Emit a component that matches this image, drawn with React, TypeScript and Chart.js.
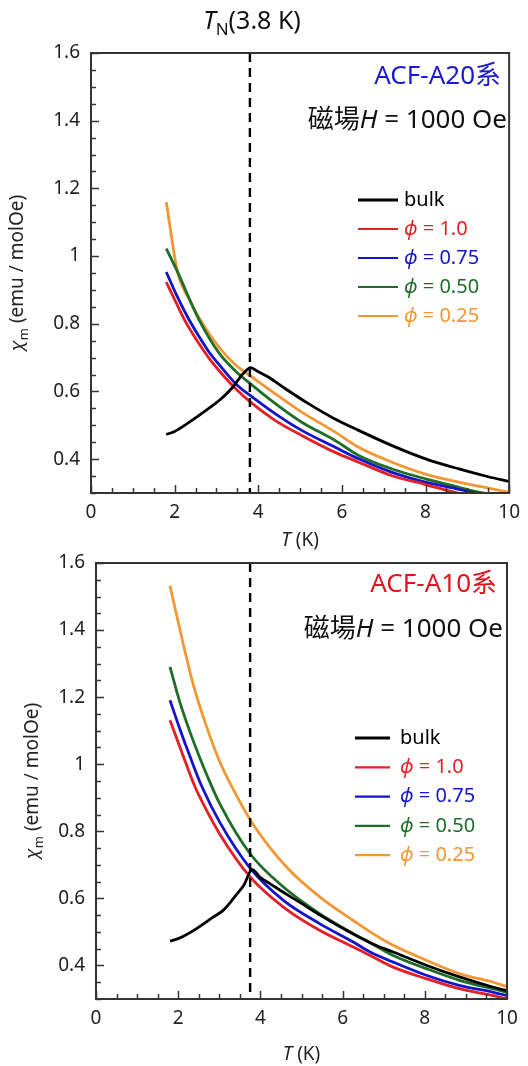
import React, { useEffect, useRef } from "react";
import { Chart, registerables } from "chart.js";

Chart.register(...registerables);

// ---------- axes ----------
const X_MIN = 0;
const X_MAX = 10;
const Y_MIN = 0.3;
const Y_MAX = 1.6;
const X_LABELS = [0, 2, 4, 6, 8, 10];
const Y_LABELS = [0.4, 0.6, 0.8, 1, 1.2, 1.4, 1.6];

// ---------- series meta ----------
const SERIES_NAMES = ["bulk", "1.0", "0.75", "0.50", "0.25"];
const SERIES_COLORS = ["#000000", "#e61e25", "#1414c8", "#1e6e28", "#f29733"];

// ---------- ACF-A20 ----------
const A20_TN = 3.8;
const A20_BULK_T = [1.8, 2.0, 2.3, 2.75, 3.1, 3.4, 3.62, 3.82, 4.0, 4.25, 4.65, 5.2, 5.8, 6.4, 7.2, 8.0, 8.8, 9.5, 10];
const A20_BULK_CHI = [0.473, 0.482, 0.505, 0.544, 0.577, 0.614, 0.65, 0.67, 0.658, 0.642, 0.608, 0.564, 0.521, 0.485, 0.44, 0.401, 0.371, 0.348, 0.334];
const A20_P100_T = [1.8, 2.03, 2.23, 2.51, 2.83, 3.06, 3.46, 3.86, 4.41, 5.04, 5.84, 6.4, 7.2, 8.0, 8.7, 9.4, 10];
const A20_P100_CHI = [0.923, 0.864, 0.813, 0.755, 0.697, 0.662, 0.608, 0.564, 0.514, 0.47, 0.42, 0.391, 0.351, 0.325, 0.302, 0.283, 0.27];
const A20_P075_T = [1.8, 2.03, 2.31, 2.59, 2.83, 3.06, 3.46, 3.86, 4.41, 5.04, 5.84, 6.4, 7.2, 8.0, 8.8, 9.4, 10];
const A20_P075_CHI = [0.953, 0.889, 0.82, 0.761, 0.715, 0.68, 0.623, 0.583, 0.534, 0.485, 0.435, 0.401, 0.361, 0.332, 0.311, 0.295, 0.282];
const A20_P050_T = [1.8, 2.1, 2.35, 2.6, 3.06, 3.46, 3.86, 4.41, 5.04, 5.84, 6.4, 7.2, 8.0, 8.8, 9.3, 10];
const A20_P050_CHI = [1.022, 0.945, 0.874, 0.808, 0.714, 0.66, 0.618, 0.564, 0.509, 0.455, 0.411, 0.371, 0.342, 0.317, 0.302, 0.288];
const A20_P025_T = [1.8, 2.07, 2.35, 2.67, 3.06, 3.46, 3.86, 4.41, 5.04, 5.84, 6.4, 7.2, 8.0, 8.8, 9.6, 10];
const A20_P025_CHI = [1.16, 0.953, 0.872, 0.8, 0.731, 0.678, 0.642, 0.593, 0.539, 0.48, 0.435, 0.391, 0.356, 0.332, 0.312, 0.302];

// ---------- ACF-A10 ----------
const A10_TN = 3.75;
const A10_BULK_T = [1.8, 2.0, 2.37, 2.85, 3.1, 3.42, 3.6, 3.8, 4.0, 4.23, 4.64, 5.04, 5.45, 6.1, 6.67, 7.23, 8.05, 8.86, 9.67, 10];
const A10_BULK_CHI = [0.473, 0.48, 0.504, 0.544, 0.565, 0.612, 0.64, 0.686, 0.662, 0.644, 0.612, 0.582, 0.55, 0.504, 0.468, 0.44, 0.4, 0.365, 0.335, 0.325];
const A10_P100_T = [1.8, 2.09, 2.4, 2.6, 3.02, 3.75, 4.56, 5.45, 6.26, 6.67, 7.23, 8.05, 8.86, 9.67, 10];
const A10_P100_CHI = [1.131, 1.035, 0.935, 0.884, 0.79, 0.664, 0.574, 0.504, 0.455, 0.43, 0.395, 0.36, 0.33, 0.31, 0.3];
const A10_P075_T = [1.8, 2.04, 2.29, 2.57, 3.02, 3.75, 4.56, 5.45, 6.26, 6.67, 7.23, 8.05, 8.86, 9.67, 10];
const A10_P075_CHI = [1.191, 1.105, 1.022, 0.935, 0.825, 0.69, 0.594, 0.524, 0.47, 0.44, 0.41, 0.37, 0.34, 0.32, 0.31];
const A10_P050_T = [1.8, 2.04, 2.29, 2.53, 2.69, 3.02, 3.75, 4.56, 5.45, 6.26, 6.67, 7.23, 8.05, 8.86, 9.67, 10];
const A10_P050_CHI = [1.29, 1.185, 1.095, 1.018, 0.97, 0.88, 0.733, 0.634, 0.554, 0.495, 0.468, 0.43, 0.39, 0.355, 0.33, 0.32];
const A10_P025_T = [1.8, 2.12, 2.37, 2.69, 3.02, 3.34, 3.8, 4.64, 5.45, 6.26, 6.67, 7.23, 8.05, 8.86, 9.67, 10];
const A10_P025_CHI = [1.532, 1.36, 1.236, 1.112, 1.005, 0.925, 0.825, 0.693, 0.604, 0.534, 0.5, 0.46, 0.415, 0.375, 0.35, 0.337];

const FONT = "'Noto Sans', 'Noto Sans CJK TC', sans-serif";

type Run = { t: string; italic?: boolean; sub?: boolean; color?: string };

function drawRuns(ctx: CanvasRenderingContext2D, runs: Run[], x: number, y: number, size: number, align: "left" | "center" | "right", color: string) {
  const fontOf = (r: Run) => `${r.italic ? "italic " : ""}${r.sub ? Math.round(size * 0.68) : size}px ${FONT}`;
  let w = 0;
  runs.forEach((r) => {
    ctx.font = fontOf(r);
    w += ctx.measureText(r.t).width;
  });
  let cx = align === "left" ? x : align === "center" ? x - w / 2 : x - w;
  ctx.textBaseline = "middle";
  ctx.textAlign = "left";
  runs.forEach((r) => {
    ctx.font = fontOf(r);
    ctx.fillStyle = r.color || color;
    ctx.fillText(r.t, cx, y + (r.sub ? size * 0.32 : 0));
    cx += ctx.measureText(r.t).width;
  });
}

const isMult = (v: number, step: number) => Math.abs(v / step - Math.round(v / step)) < 1e-6;

const decorPlugin = {
  id: "decor",
  afterDatasetsDraw(chart: any, _args: any, opts: any) {
    const { ctx, chartArea, scales } = chart;
    const { left, right, top, bottom } = chartArea;
    const x = scales.x;
    const y = scales.y;
    ctx.save();
    // inward ticks
    ctx.strokeStyle = "#333";
    ctx.lineWidth = 1.5;
    x.ticks.forEach((t: any) => {
      const px = Math.round(x.getPixelForValue(t.value)) + 0.5;
      const len = isMult(t.value, 2) ? 8 : 5;
      ctx.beginPath();
      ctx.moveTo(px, bottom);
      ctx.lineTo(px, bottom - len);
      ctx.stroke();
    });
    y.ticks.forEach((t: any) => {
      const py = Math.round(y.getPixelForValue(t.value)) + 0.5;
      const len = isMult(t.value, 0.2) ? 8 : 5;
      ctx.beginPath();
      ctx.moveTo(left, py);
      ctx.lineTo(left + len, py);
      ctx.stroke();
    });
    // frame
    ctx.lineWidth = 2;
    ctx.strokeRect(left, top, right - left, bottom - top);

    // legend
    const lg = opts.legend;
    SERIES_NAMES.forEach((name, i) => {
      const ly = lg.y0 + i * lg.dy;
      ctx.strokeStyle = SERIES_COLORS[i];
      ctx.lineWidth = i === 0 ? 3 : 2.2;
      ctx.beginPath();
      ctx.moveTo(lg.x0, ly);
      ctx.lineTo(lg.x1, ly);
      ctx.stroke();
      const runs: Run[] = i === 0 ? [{ t: name }] : [{ t: "ϕ", italic: true }, { t: " = " + name }];
      drawRuns(ctx, runs, lg.tx, ly, 20, "left", SERIES_COLORS[i]);
    });

    // annotations
    drawRuns(ctx, [{ t: opts.sample }], opts.sampleX, opts.sampleY, 26, "right", opts.sampleColor);
    drawRuns(ctx, [{ t: "磁場" }, { t: "H", italic: true }, { t: " = 1000 Oe" }], opts.fieldX, opts.fieldY, 26, "right", "#111");

    if (opts.title) {
      drawRuns(ctx, [{ t: "T", italic: true }, { t: "N", sub: true }, { t: "(3.8 K)" }], opts.titleX, opts.titleY, 25, "center", "#111");
    }

    // axis titles
    drawRuns(ctx, [{ t: "T", italic: true }, { t: " (K)" }], (left + right) / 2, opts.xTitleY, 19, "center", "#222");
    ctx.save();
    ctx.translate(opts.yTitleX, (top + bottom) / 2);
    ctx.rotate(-Math.PI / 2);
    drawRuns(ctx, [{ t: "χ", italic: true }, { t: "m", sub: true }, { t: " (emu / molOe)" }], 0, 0, 19, "center", "#222");
    ctx.restore();

    ctx.restore();
  },
};

type PanelCfg = {
  series: { t: number[]; chi: number[] }[];
  tn: number;
  height: number;
  padTop: number;
  padRight: number;
  yAxisW: number;
  xAxisH: number;
  decor: any;
};

function makeDatasets(cfg: PanelCfg) {
  const ds: any[] = cfg.series.map((s, i) => ({
    label: SERIES_NAMES[i],
    data: s.t.map((t, k) => ({ x: t, y: s.chi[k] })),
    borderColor: SERIES_COLORS[i],
    borderWidth: 2.8,
    pointRadius: 0,
    showLine: true,
    fill: false,
    cubicInterpolationMode: "monotone",
  }));
  ds.push({
    label: "TN",
    data: [
      { x: cfg.tn, y: Y_MAX },
      { x: cfg.tn, y: Y_MIN },
    ],
    borderColor: "#000",
    borderWidth: 2.4,
    borderDash: [9, 6],
    pointRadius: 0,
    showLine: true,
    fill: false,
    order: -1,
  });
  return ds;
}

function Panel({ cfg, top }: { cfg: PanelCfg; top: number }) {
  const ref = useRef<HTMLCanvasElement>(null);
  useEffect(() => {
    if (!ref.current) return;
    const chart = new Chart(ref.current, {
      type: "scatter",
      data: { datasets: makeDatasets(cfg) },
      plugins: [decorPlugin],
      options: {
        animation: false,
        responsive: false,
        events: [],
        layout: { padding: { top: cfg.padTop, right: cfg.padRight, left: 0, bottom: 0 } },
        plugins: {
          legend: { display: false },
          tooltip: { enabled: false },
          decor: cfg.decor,
        } as any,
        scales: {
          x: {
            type: "linear",
            min: X_MIN,
            max: X_MAX,
            grid: { display: false, drawTicks: false },
            border: { display: false },
            ticks: {
              stepSize: 0.5,
              autoSkip: false,
              maxRotation: 0,
              padding: 8,
              color: "#222",
              font: { size: 19, family: FONT },
              callback: (v: any) => (X_LABELS.some((l) => Math.abs(l - v) < 1e-6) ? String(Math.round(v)) : ""),
            },
            afterFit: (s: any) => {
              s.height = cfg.xAxisH;
            },
          },
          y: {
            type: "linear",
            min: Y_MIN,
            max: Y_MAX,
            grid: { display: false, drawTicks: false },
            border: { display: false },
            ticks: {
              stepSize: 0.05,
              autoSkip: false,
              padding: 11,
              color: "#222",
              font: { size: 19, family: FONT },
              callback: (v: any) => (Y_LABELS.some((l) => Math.abs(l - v) < 1e-6) ? String(Math.round(v * 10) / 10) : ""),
            },
            afterFit: (s: any) => {
              s.width = cfg.yAxisW;
            },
          },
        },
      } as any,
    });
    return () => chart.destroy();
  }, []);
  return (
    <div style={{ position: "absolute", left: 0, top, width: 528, height: cfg.height }}>
      <canvas ref={ref} width={528} height={cfg.height} style={{ display: "block" }} />
    </div>
  );
}

const TOP_CFG: PanelCfg = {
  series: [
    { t: A20_BULK_T, chi: A20_BULK_CHI },
    { t: A20_P100_T, chi: A20_P100_CHI },
    { t: A20_P075_T, chi: A20_P075_CHI },
    { t: A20_P050_T, chi: A20_P050_CHI },
    { t: A20_P025_T, chi: A20_P025_CHI },
  ],
  tn: A20_TN,
  height: 555,
  padTop: 53,
  padRight: 16,
  yAxisW: 91,
  xAxisH: 62,
  decor: {
    legend: { x0: 358, x1: 398, tx: 404, y0: 200, dy: 29 },
    sample: "ACF-A20系",
    sampleColor: "#1a1ad2",
    sampleX: 501,
    sampleY: 77,
    fieldX: 507,
    fieldY: 121,
    title: true,
    titleX: 252,
    titleY: 22,
    xTitleY: 541,
    yTitleX: 18,
  },
};

// bottom panel canvas starts at page y = 515
const BOTTOM_CFG: PanelCfg = {
  series: [
    { t: A10_BULK_T, chi: A10_BULK_CHI },
    { t: A10_P100_T, chi: A10_P100_CHI },
    { t: A10_P075_T, chi: A10_P075_CHI },
    { t: A10_P050_T, chi: A10_P050_CHI },
    { t: A10_P025_T, chi: A10_P025_CHI },
  ],
  tn: A10_TN,
  height: 551,
  padTop: 48,
  padRight: 21,
  yAxisW: 96,
  xAxisH: 67,
  decor: {
    legend: { x0: 355, x1: 390, tx: 400, y0: 223, dy: 29.3 },
    sample: "ACF-A10系",
    sampleColor: "#e0141e",
    sampleX: 497,
    sampleY: 70,
    fieldX: 503,
    fieldY: 115,
    title: false,
    xTitleY: 540,
    yTitleX: 33,
  },
};

export default function App() {
  return (
    <div style={{ position: "absolute", left: 0, top: 0, width: 528, height: 1066, background: "#fff" }}>
      <Panel cfg={TOP_CFG} top={0} />
      <Panel cfg={BOTTOM_CFG} top={515} />
    </div>
  );
}
